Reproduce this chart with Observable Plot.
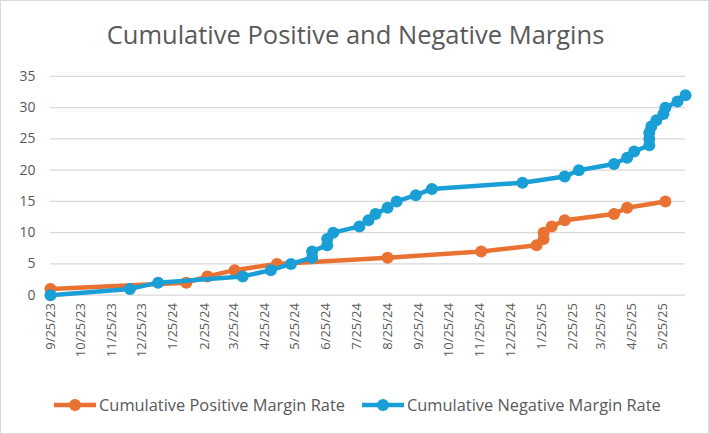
<!DOCTYPE html>
<html>
<head>
<meta charset="utf-8">
<script src="https://cdn.jsdelivr.net/npm/d3@7"></script>
<script src="https://cdn.jsdelivr.net/npm/@observablehq/plot@0.6"></script>
<style>
  html, body { margin: 0; padding: 0; background: #fff; }
  #chart { position: relative; width: 709px; height: 434px; box-sizing: border-box; border: 1px solid #d9d9d9; font-family: "Open Sans", Roboto, sans-serif; color: #595959; overflow: hidden; }
  #title { position: absolute; top: 16px; left: 0; width: 709px; text-align: center; font-size: 25.5px; color: #595959; }
  #plot { position: absolute; top: 59px; left: -1px; }
  #legend { position: absolute; top: 392px; left: 52px; display: flex; align-items: center; font-size: 16.4px; color: #595959; white-space: nowrap; }
  .item { display: flex; align-items: center; margin-right: 16px; }
  .item svg { margin-right: 2px; }
</style>
</head>
<body>
<div id="chart">
  <div id="title">Cumulative Positive and Negative Margins</div>
  <div id="plot"></div>
  <div id="legend"></div>
</div>
<script>
const seriesNames = ["Cumulative Positive Margin Rate", "Cumulative Negative Margin Rate"];
const seriesColors = ["#E97132", "#199FD6"];

const posDates = ["2023-09-25","2024-02-07","2024-02-28","2024-03-26","2024-05-07","2024-08-25","2024-11-26","2025-01-20","2025-01-27","2025-01-27","2025-02-04","2025-02-17","2025-04-07","2025-04-20","2025-05-28"];
const posValues = [1,2,3,4,5,6,7,8,9,10,11,12,13,14,15];

const negDates = ["2023-09-25","2023-12-13","2024-01-10","2024-04-03","2024-05-01","2024-05-21","2024-06-11","2024-06-11","2024-06-26","2024-06-26","2024-07-02","2024-07-28","2024-08-06","2024-08-13","2024-08-25","2024-09-03","2024-09-22","2024-10-08","2025-01-06","2025-02-17","2025-03-03","2025-04-07","2025-04-20","2025-04-27","2025-05-12","2025-05-12","2025-05-12","2025-05-14","2025-05-19","2025-05-26","2025-05-28","2025-06-09","2025-06-17"];
const negValues = [0,1,2,3,4,5,6,7,8,9,10,11,12,13,14,15,16,17,18,19,20,21,22,23,24,25,26,27,28,29,30,31,32];

const xTicks = ["2023-09-25","2023-10-25","2023-11-25","2023-12-25","2024-01-25","2024-02-25","2024-03-25","2024-04-25","2024-05-25","2024-06-25","2024-07-25","2024-08-25","2024-09-25","2024-10-25","2024-11-25","2024-12-25","2025-01-25","2025-02-25","2025-03-25","2025-04-25","2025-05-25"];
const yTicks = [0,5,10,15,20,25,30,35];

const parse = d3.utcParse("%Y-%m-%d");
const pos = posDates.map((d, i) => ({date: parse(d), value: posValues[i]}));
const neg = negDates.map((d, i) => ({date: parse(d), value: negValues[i]}));

const plot = Plot.plot({
  width: 709,
  height: 300,
  marginLeft: 50,
  marginRight: 23,
  marginTop: 16,
  marginBottom: 65,
  style: {fontFamily: "'Open Sans', Roboto, sans-serif", color: "#595959", background: "transparent"},
  x: {type: "utc", domain: [parse("2023-09-25"), parse("2025-06-17")]},
  y: {domain: [0, 35]},
  marks: [
    Plot.gridY(yTicks, {stroke: "#d9d9d9", strokeOpacity: 1, strokeWidth: 1.3}),
    Plot.axisY(yTicks, {tickSize: 0, tickPadding: 15, fontSize: 14, fill: "#595959", label: null}),
    Plot.axisX(xTicks.map(parse), {tickSize: 0, tickPadding: 8, tickRotate: -90, fontSize: 13, fill: "#595959", tickFormat: d3.utcFormat("%-m/%-d/%y"), label: null}),
    Plot.line(pos, {x: "date", y: "value", stroke: seriesColors[0], strokeWidth: 4.5}),
    Plot.dot(pos, {x: "date", y: "value", r: 6, fill: seriesColors[0], stroke: "none"}),
    Plot.line(neg, {x: "date", y: "value", stroke: seriesColors[1], strokeWidth: 4.5}),
    Plot.dot(neg, {x: "date", y: "value", r: 6, fill: seriesColors[1], stroke: "none"})
  ]
});
document.getElementById("plot").appendChild(plot);

const legend = document.getElementById("legend");
seriesNames.forEach((name, i) => {
  const item = document.createElement("div");
  item.className = "item";
  item.innerHTML = `<svg width="44" height="14"><line x1="1" y1="7" x2="43" y2="7" stroke="${seriesColors[i]}" stroke-width="4.5"/><circle cx="22" cy="7" r="6" fill="${seriesColors[i]}"/></svg><span>${name}</span>`;
  legend.appendChild(item);
});
</script>
</body>
</html>
